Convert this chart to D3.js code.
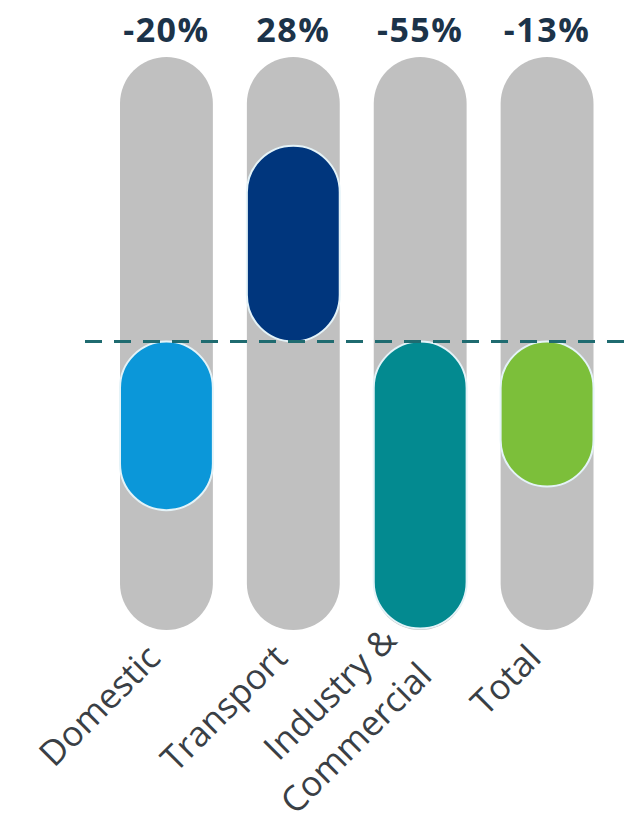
<!DOCTYPE html>
<html>
<head>
<meta charset="utf-8">
<script src="https://cdn.jsdelivr.net/npm/d3@7"></script>
<style>
  html, body { margin: 0; padding: 0; background: #ffffff; }
  svg { display: block; }
</style>
</head>
<body>
<script>
// Change in emissions by sector (percent)
const categories = ["Domestic", "Transport", "Industry & Commercial", "Total"];
const changes = [-20, 28, -55, -13];
const changeLabels = ["-20%", "28%", "-55%", "-13%"];
const categoryLines = [["Domestic"], ["Transport"], ["Industry &", "Commercial"], ["Total"]];
const palette = ["#0b97d9", "#00367d", "#038a90", "#7cbf3a"];

const W = 628, H = 827;
const svg = d3.select("body").append("svg").attr("width", W).attr("height", H);

const x = d3.scaleBand().domain(categories).range([120, 593.5]).paddingInner(0.268).paddingOuter(0);
const color = d3.scaleOrdinal(categories, palette);

// Track extent and zero line
const trackTop = 57, trackBottom = 630, zeroY = 341.5;
// Length of a coloured capsule for a given absolute change
const len = d3.scaleLinear().domain([0, 55]).range([101, 287]);

const bw = x.bandwidth();
const rows = categories.map((c, i) => ({ c, v: changes[i], label: changeLabels[i], lines: categoryLines[i] }));

// grey tracks
svg.append("g").selectAll("rect").data(rows).join("rect")
  .attr("x", d => x(d.c))
  .attr("y", trackTop)
  .attr("width", bw)
  .attr("height", trackBottom - trackTop)
  .attr("rx", bw / 2)
  .attr("fill", "#c0c0c0");

// coloured capsules, growing up or down from the zero line
svg.append("g").selectAll("rect").data(rows).join("rect")
  .attr("x", d => x(d.c))
  .attr("y", d => d.v >= 0 ? zeroY - len(Math.abs(d.v)) : zeroY)
  .attr("width", bw)
  .attr("height", d => len(Math.abs(d.v)))
  .attr("rx", bw / 2)
  .attr("fill", d => color(d.c))
  .attr("stroke", "#e4f3f8")
  .attr("stroke-width", 2);

// dashed zero line
svg.append("line")
  .attr("x1", 85).attr("x2", W)
  .attr("y1", zeroY).attr("y2", zeroY)
  .attr("stroke", "#1f6b70")
  .attr("stroke-width", 3)
  .attr("stroke-dasharray", "17 12");

// percentage labels above the tracks
svg.append("g").selectAll("text").data(rows).join("text")
  .attr("x", d => x(d.c) + bw / 2)
  .attr("y", 42)
  .attr("text-anchor", "middle")
  .attr("font-family", "'Open Sans', sans-serif")
  .attr("font-weight", 700)
  .attr("font-size", 34)
  .attr("letter-spacing", 1.5)
  .attr("fill", "#1c3349")
  .text(d => d.label);

// rotated category labels below the tracks
const lineH = 50;
const cat = svg.append("g").selectAll("text").data(rows).join("text")
  .attr("transform", d => `translate(${x(d.c) + bw / 2 - 4},660) rotate(-45)`)
  .attr("text-anchor", "end")
  .attr("font-family", "'Open Sans', sans-serif")
  .attr("font-size", 35)
  .attr("fill", "#3a3f45");
cat.selectAll("tspan").data(d => d.lines.map((t, i) => ({ t, off: (i - (d.lines.length - 1) / 2) * lineH })))
  .join("tspan")
  .attr("x", 0)
  .attr("y", d => d.off)
  .text(d => d.t);
</script>
</body>
</html>
